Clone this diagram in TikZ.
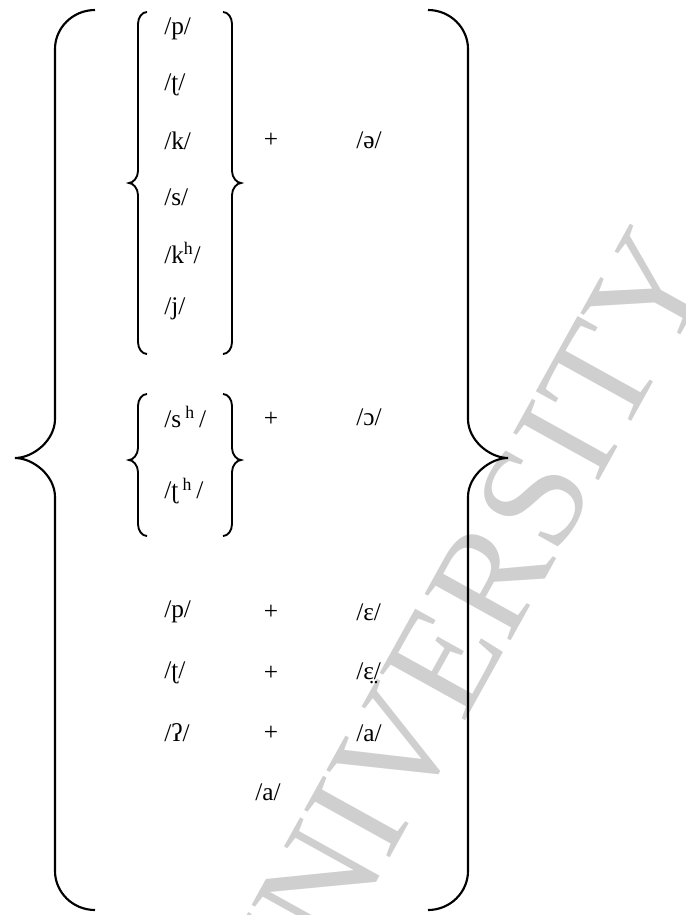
\documentclass[tikz,border=0pt]{standalone}
\usepackage{fontspec}
\setmainfont{Liberation Serif}
\usetikzlibrary{calc}

% geschweifte Klammer: [Stil] x der Senkrechten, oben, Spitze, unten, Breite (neg. = rechts), Radius
\newcommand{\klammer}[7][]{%
  \draw[klammer,#1] ({#2+#6},#3) .. controls ({#2+0.45*#6},#3) and (#2,{#3+0.45*#7}) .. (#2,{#3+#7})
    -- (#2,{#4-#7}) .. controls (#2,{#4-0.45*#7}) and ({#2-0.55*#6},#4) .. ({#2-#6},#4)
    .. controls ({#2-0.55*#6},#4) and (#2,{#4+0.45*#7}) .. (#2,{#4+#7})
    -- (#2,{#5-#7}) .. controls (#2,{#5-0.45*#7}) and ({#2+0.45*#6},#5) .. ({#2+#6},#5);
}

\tikzset{
  laut/.style={inner sep=0pt, anchor=west, font=\fontsize{19}{19}\selectfont},
  zeichen/.style={inner sep=0pt, font=\fontsize{19}{19}\selectfont},
  klammer/.style={line width=1.4pt},
  wasserzeichen/.style={text=black!19, rotate=61, inner sep=0pt,
    font=\fontsize{112}{112}\selectfont}
}

\begin{document}
\begin{tikzpicture}[x=0.75pt,y=-0.75pt]

\useasboundingbox (0,0) rectangle (686,915);

% Wasserzeichen
\node[wasserzeichen] (wz) at (458,636) {UNIVERSITY};

% Spalten
\def\xa{164}
\def\xb{271}
\def\xc{356}

% ------------------- Erste Gruppe -------------------
\foreach \lab [count=\i from 0] in {/p/,/ʈ/,/k/,/s/,/k\textsuperscript{h}/,/j/}
  \node[laut] (g\i) at (\xa,{29+56*\i}) {\lab};
\node[zeichen] (plusA) at (\xb,140) {+};
\node[laut] (schwa) at (\xc,140) {/ə/};

\klammer{138}{12}{183}{354}{9}{12}
\klammer{232}{12}{183}{354}{-9}{12}

% ------------------- Zweite Gruppe -------------------
\node[laut] (sh) at (\xa,417) {/s\,\textsuperscript{h}\,/};
\node[laut] (th) at (\xa,491) {/ʈ\,\textsuperscript{h}\,/};
\node[zeichen] (plusB) at (\xb,419) {+};
\node[laut] (oo) at (\xc,417) {/ɔ/};

\klammer{138}{394}{460}{536}{9}{12}
\klammer{232}{394}{460}{536}{-9}{12}

% ------------------- Einzelne Paare -------------------
\node[laut] (p2) at (\xa,612) {/p/};
\node[zeichen] (plusC) at (\xb,612) {+};
\node[laut] (eps) at (\xc,612) {/ɛ/};

\node[laut] (t2) at (\xa,673) {/ʈ/};
\node[zeichen] (plusD) at (\xb,673) {+};
\node[laut] (epsb) at (\xc,673) {/ɛ̤/};

\node[laut] (glot) at (\xa,733) {/ʔ/};
\node[zeichen] (plusE) at (\xb,733) {+};
\node[laut] (a1) at (\xc,733) {/a/};

\node[laut,anchor=center] (a2) at (268,792) {/a/};

% ------------------- Aeussere Klammern -------------------
\klammer[line width=1.6pt]{55}{10}{458}{910}{40}{39}
\klammer[line width=1.6pt]{468}{10}{458}{910}{-40}{39}

\end{tikzpicture}
\end{document}
